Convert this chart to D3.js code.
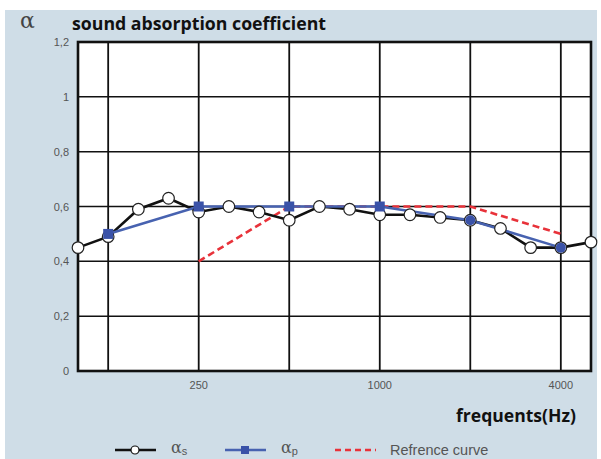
<!DOCTYPE html>
<html><head><meta charset="utf-8">
<script src="https://cdn.jsdelivr.net/npm/d3@7"></script>
<style>body{margin:0;background:#fff}svg{display:block}</style>
</head><body><svg id="c" width="601" height="459"></svg>
<script>
const freqs = ["100","125","160","200","250","315","400","500","630","800","1000","1250","1600","2000","2500","3150","4000","5000"];
const alphaS = [0.45,0.49,0.59,0.63,0.58,0.60,0.58,0.55,0.60,0.59,0.57,0.57,0.56,0.55,0.52,0.45,0.45,0.47];
const alphaPFreqs = ["125","250","500","1000","2000","4000"];
const alphaP = [0.50,0.60,0.60,0.60,0.55,0.45];
const refFreqs = ["250","500","1000","2000","4000"];
const refCurve = [0.40,0.60,0.60,0.60,0.50];
const gridFreqs = ["125","250","500","1000","2000","4000"];
const xTickLabels = ["250","1000","4000"];
const yTicks = [0,0.2,0.4,0.6,0.8,1,1.2];

const svg = d3.select("#c");
svg.append("rect").attr("x",5).attr("y",10).attr("width",592).attr("height",449).attr("fill","#cfdde7");

const L=78,R=591,T=42,B=371;
const x = d3.scalePoint().domain(freqs).range([L,R]);
const y = d3.scaleLinear().domain([0,1.2]).range([B,T]);

svg.append("rect").attr("x",L).attr("y",T).attr("width",R-L).attr("height",B-T).attr("fill","#fff");

const g = svg.append("g");
g.selectAll(".hg").data(yTicks.slice(1,-1)).join("line")
 .attr("x1",L).attr("x2",R).attr("y1",d=>y(d)).attr("y2",d=>y(d))
 .attr("stroke","#111").attr("stroke-width",1.5);
g.selectAll(".vg").data(gridFreqs).join("line")
 .attr("x1",d=>x(d)).attr("x2",d=>x(d)).attr("y1",T).attr("y2",B)
 .attr("stroke","#111").attr("stroke-width",1.8);
g.append("rect").attr("x",L).attr("y",T).attr("width",R-L).attr("height",B-T)
 .attr("fill","none").attr("stroke","#111").attr("stroke-width",2.6);

const fmt = d => String(d).replace(".",",");
svg.selectAll(".yl").data(yTicks).join("text")
 .attr("x",69).attr("y",d=>y(d)+4).attr("text-anchor","end")
 .attr("font-family","Liberation Sans, Arial, sans-serif").attr("font-size",11).attr("fill","#555")
 .text(fmt);
svg.selectAll(".xl").data(xTickLabels).join("text")
 .attr("x",d=>x(d)).attr("y",389).attr("text-anchor","middle")
 .attr("font-family","Liberation Sans, Arial, sans-serif").attr("font-size",11).attr("fill","#555")
 .text(d=>d);

const ln = d3.line().x(d=>x(d[0])).y(d=>y(d[1]));
svg.append("path").attr("d",ln(refFreqs.map((f,i)=>[f,refCurve[i]])))
 .attr("fill","none").attr("stroke","#e8323a").attr("stroke-width",2.6).attr("stroke-dasharray","7,4");
svg.append("path").attr("d",ln(freqs.map((f,i)=>[f,alphaS[i]])))
 .attr("fill","none").attr("stroke","#111").attr("stroke-width",2.6);
svg.append("path").attr("d",ln(alphaPFreqs.map((f,i)=>[f,alphaP[i]])))
 .attr("fill","none").attr("stroke","#4762b0").attr("stroke-width",2.6);
svg.selectAll(".cs").data(freqs).join("circle")
 .attr("cx",d=>x(d)).attr("cy",(d,i)=>y(alphaS[i])).attr("r",5.8)
 .attr("fill","#fff").attr("stroke","#222").attr("stroke-width",1.2);
svg.selectAll(".sp").data(alphaPFreqs).join("rect")
 .attr("x",d=>x(d)-5).attr("y",(d,i)=>y(alphaP[i])-5).attr("width",10).attr("height",10)
 .attr("rx",(d,i)=>i>=4?5:0)
 .attr("fill","#3a52a8");

svg.append("text").attr("x",20).attr("y",28).attr("font-family","DejaVu Serif, serif")
 .attr("font-size",22).attr("fill","#444").text("α");
svg.append("text").attr("x",72).attr("y",30).attr("font-family","Open Sans, Liberation Sans, sans-serif")
 .attr("font-weight","bold").attr("font-size",17).attr("fill","#111")
 .attr("textLength",254).attr("lengthAdjust","spacingAndGlyphs").text("sound absorption coefficient");
svg.append("text").attr("x",456).attr("y",422).attr("font-family","Open Sans, Liberation Sans, sans-serif")
 .attr("font-weight","bold").attr("font-size",17).attr("fill","#111")
 .attr("textLength",120).attr("lengthAdjust","spacingAndGlyphs").text("frequents(Hz)");

const lg = svg.append("g").attr("font-family","Liberation Sans, Arial, sans-serif").attr("fill","#444");
const ly = 450;
lg.append("line").attr("x1",115).attr("x2",156).attr("y1",ly).attr("y2",ly).attr("stroke","#111").attr("stroke-width",2.6);
lg.append("circle").attr("cx",135).attr("cy",ly).attr("r",4).attr("fill","#fff").attr("stroke","#111").attr("stroke-width",1.2);
lg.append("text").attr("x",171).attr("y",453).attr("font-family","DejaVu Serif, serif").attr("font-size",16).attr("fill","#555").text("α")
  .append("tspan").attr("font-family","Liberation Sans, sans-serif").attr("font-size",11).attr("dy",2).text("s");
lg.append("line").attr("x1",225).attr("x2",266).attr("y1",ly).attr("y2",ly).attr("stroke","#4762b0").attr("stroke-width",2.6);
lg.append("rect").attr("x",241).attr("y",ly-4).attr("width",8).attr("height",8).attr("fill","#3a52a8");
lg.append("text").attr("x",281).attr("y",453).attr("font-family","DejaVu Serif, serif").attr("font-size",16).attr("fill","#555").text("α")
  .append("tspan").attr("font-family","Liberation Sans, sans-serif").attr("font-size",11).attr("dy",2).text("p");
lg.append("line").attr("x1",335).attr("x2",376).attr("y1",ly).attr("y2",ly).attr("stroke","#e8323a").attr("stroke-width",2.6).attr("stroke-dasharray","6,4");
lg.append("text").attr("x",390).attr("y",455).attr("font-size",14.5).attr("fill","#555").text("Refrence curve");
</script></body></html>
